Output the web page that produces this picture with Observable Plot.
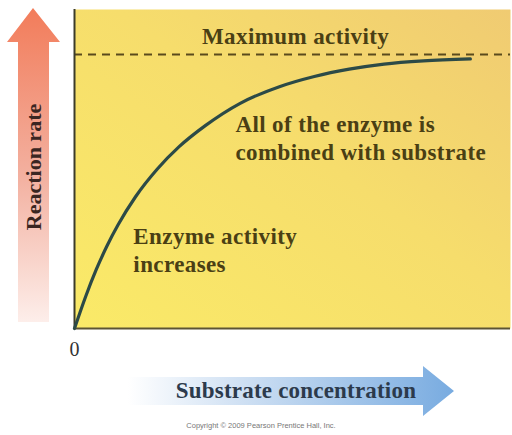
<!DOCTYPE html>
<html>
<head>
<meta charset="utf-8">
<script src="https://cdn.jsdelivr.net/npm/d3@7"></script>
<script src="https://cdn.jsdelivr.net/npm/@observablehq/plot@0.6"></script>
<style>
  html, body { margin: 0; padding: 0; background: #ffffff; }
  #chart svg { display: block; overflow: visible; }
  #chart svg text { font-family: "Liberation Serif", "Times New Roman", serif; }
  #chart svg g[aria-label="text"] text { letter-spacing: 0.4px; }
  #chart svg text.credit { font-family: "Liberation Sans", Arial, sans-serif; }
</style>
</head>
<body>
<div id="chart"></div>
<script>
// Substrate concentration (arbitrary units) and reaction rate (arbitrary units)
const substrate = [0, 2.5, 5, 7.5, 10, 14, 19, 24, 30, 38, 47, 55, 63, 71, 80, 90.8];
const rate      = [0, 9.8, 18.5, 26.0, 32.5, 41.3, 50.0, 57.0, 63.6, 70.6, 75.8, 79.0, 81.3, 82.9, 83.9, 84.5];
const maxActivity = [85.9];
const xTicks = [0];

const noteText = ["Maximum activity", "All of the enzyme is\ncombined with substrate", "Enzyme activity\nincreases"];
const noteX = [50.7, 36.9, 13.5];
const noteY = [89.3, 52.7, 17.6];
const noteAnchor = ["middle", "start", "start"];

const yLabel = "Reaction rate";
const xLabel = "Substrate concentration";
const credit = "Copyright © 2009 Pearson Prentice Hall, Inc.";

const curve = substrate.map((s, i) => ({s, r: rate[i]}));
const notes = noteText.map((t, i) => ({t, x: noteX[i], y: noteY[i], a: noteAnchor[i]}));

const W = 512, H = 435;
const plot = Plot.plot({
  width: W, height: H,
  marginLeft: 74, marginRight: 2, marginTop: 9, marginBottom: 107,
  style: {fontSize: "20px", background: "#ffffff", color: "#333"},
  x: {domain: [0, 100], ticks: xTicks, tickSize: 0, tickPadding: 13, label: null, tickFormat: d => String(d)},
  y: {domain: [0, 100], axis: null},
  marks: [
    Plot.frame({fill: "url(#bgGrad)", stroke: null}),
    Plot.ruleY(maxActivity, {stroke: "#5a4a1c", strokeWidth: 2.2, strokeDasharray: "8,6"}),
    Plot.ruleX([0], {stroke: "#3c3c2a", strokeWidth: 2}),
    Plot.ruleY([0], {stroke: "#5c5434", strokeWidth: 2}),
    Plot.line(curve, {x: "s", y: "r", curve: "monotone-x", stroke: "#2c4a47", strokeWidth: 3.2}),
    ...notes.map(n => Plot.text([n], {
      x: "x", y: "y", text: "t", textAnchor: n.a, lineAnchor: "bottom", lineHeight: 1.22,
      fontSize: 23, fontWeight: "bold", fill: "#4a3f14"
    }))
  ]
});
document.getElementById("chart").appendChild(plot);

const svg = d3.select(plot);
const defs = svg.insert("defs", ":first-child");
const bg = defs.append("linearGradient").attr("id", "bgGrad")
  .attr("x1", "0").attr("y1", "1").attr("x2", "1").attr("y2", "0");
bg.append("stop").attr("offset", "0%").attr("stop-color", "#faea68");
bg.append("stop").attr("offset", "55%").attr("stop-color", "#f6dd6c");
bg.append("stop").attr("offset", "100%").attr("stop-color", "#f0cb72");

const rg = defs.append("linearGradient").attr("id", "redGrad")
  .attr("x1", "0").attr("y1", "1").attr("x2", "0").attr("y2", "0");
rg.append("stop").attr("offset", "0%").attr("stop-color", "#fdeeea");
rg.append("stop").attr("offset", "45%").attr("stop-color", "#f3b2a2");
rg.append("stop").attr("offset", "100%").attr("stop-color", "#f27c5a");

const bgr = defs.append("linearGradient").attr("id", "blueGrad")
  .attr("x1", "0").attr("y1", "0").attr("x2", "1").attr("y2", "0");
bgr.append("stop").attr("offset", "0%").attr("stop-color", "#ffffff");
bgr.append("stop").attr("offset", "35%").attr("stop-color", "#cfe0f3");
bgr.append("stop").attr("offset", "100%").attr("stop-color", "#78abe0");

const deco = svg.append("g");
// red arrow (vertical)
deco.append("path")
  .attr("d", "M18,322 L18,42 L7,42 L33,8 L60,42 L49,42 L49,322 Z")
  .attr("fill", "url(#redGrad)");
deco.append("text")
  .attr("transform", "translate(33,167) rotate(-90)")
  .attr("text-anchor", "middle").attr("dominant-baseline", "central")
  .attr("font-size", 22).attr("font-weight", "bold")
  .attr("fill", "#3a2622").text(yLabel);
// blue arrow (horizontal)
deco.append("path")
  .attr("d", "M128,377 L423,377 L423,366 L454,391 L423,416 L423,405 L128,405 Z")
  .attr("fill", "url(#blueGrad)");
deco.append("text")
  .attr("x", 296).attr("y", 398)
  .attr("text-anchor", "middle")
  .attr("font-size", 23).attr("font-weight", "bold").attr("letter-spacing", "0.2px")
  .attr("fill", "#2c3a4c").text(xLabel);
deco.append("text")
  .attr("class", "credit")
  .attr("x", 261).attr("y", 428)
  .attr("text-anchor", "middle")
  .attr("font-size", 7.5)
  .attr("fill", "#777").text(credit);
</script>
</body>
</html>
